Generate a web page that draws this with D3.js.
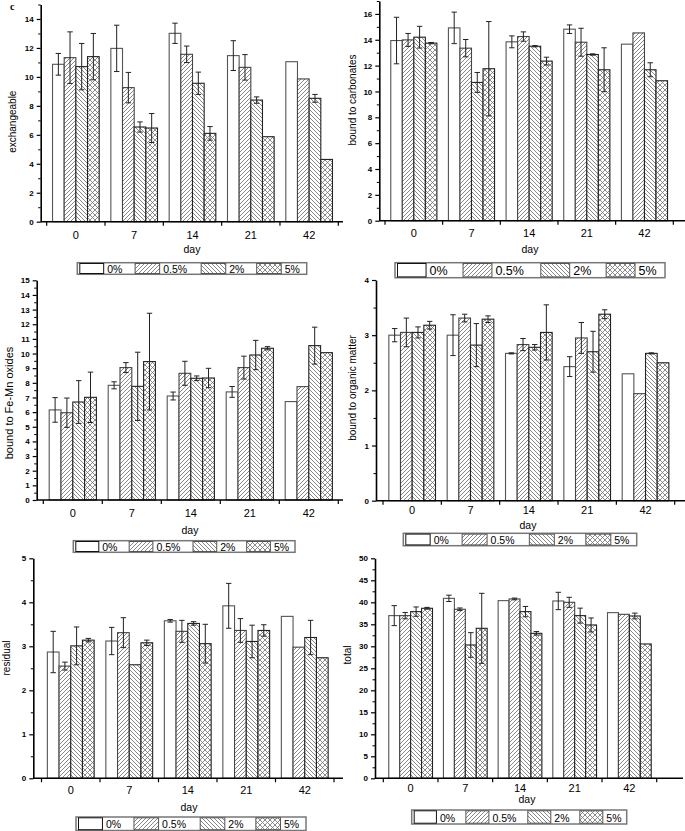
<!DOCTYPE html>
<html><head><meta charset="utf-8">
<script src="https://cdn.jsdelivr.net/npm/d3@7"></script>
<style>body{margin:0;background:#fff}svg{display:block}</style>
</head><body>
<svg id="c" width="685" height="831"></svg>
<script>
// ---------- data ----------
const days = ["0", "7", "14", "21", "42"];
const seriesNames = ["0%", "0.5%", "2%", "5%"];

// rows = days, columns = 0%, 0.5%, 2%, 5%
const exchangeableMean = [[10.87, 11.33, 10.71, 11.4], [11.97, 9.26, 6.54, 6.47], [13.01, 11.56, 9.56, 6.1], [11.47, 10.66, 8.4, 5.87], [11.05, 9.86, 8.52, 4.3]];
const exchangeableErr  = [[0.75, 1.78, 1.6, 1.6], [1.6, 1.05, 0.35, 1.0], [0.7, 0.57, 0.77, 0.47], [1.03, 0.88, 0.22, 0], [0, 0, 0.27, 0]];

const carbonatesMean = [[13.94, 13.99, 14.2, 13.74], [14.92, 13.35, 10.7, 11.76], [13.84, 14.25, 13.5, 12.35], [14.82, 13.81, 12.86, 11.68], [13.66, 14.53, 11.68, 10.83]];
const carbonatesErr  = [[1.8, 0.5, 0.84, 0.05], [1.22, 0.67, 0.77, 3.65], [0.46, 0.36, 0.05, 0.3], [0.33, 1.08, 0.05, 1.7], [0, 0, 0.54, 0]];

const feMnMean = [[6.15, 5.96, 6.69, 7.01], [7.83, 9.04, 7.76, 9.45], [7.1, 8.65, 8.31, 8.33], [7.38, 9.04, 9.9, 10.36], [6.72, 7.74, 10.54, 10.06]];
const feMnErr  = [[0.84, 1.0, 1.46, 1.72], [0.24, 0.34, 2.33, 3.3], [0.27, 0.82, 0.16, 0.66], [0.37, 0.78, 1.0, 0.11], [0, 0, 1.26, 0]];

const organicMean = [[3.0, 3.05, 3.05, 3.18], [3.0, 3.31, 2.82, 3.29], [2.67, 2.83, 2.78, 3.05], [2.43, 2.95, 2.7, 3.38], [2.3, 1.94, 2.67, 2.5]];
const organicErr  = [[0.12, 0.26, 0.1, 0.07], [0.37, 0.07, 0.39, 0.06], [0.01, 0.11, 0.05, 0.5], [0.18, 0.28, 0.37, 0.08], [0, 0, 0.01, 0]];

const residualMean = [[2.87, 2.55, 3.01, 3.14], [3.12, 3.31, 2.58, 3.08], [3.58, 3.34, 3.52, 3.06], [3.92, 3.36, 3.11, 3.36], [3.68, 2.98, 3.2, 2.74]];
const residualErr  = [[0.47, 0.09, 0.43, 0.04], [0.31, 0.34, 0, 0.06], [0.03, 0.25, 0.04, 0.44], [0.51, 0.27, 0.37, 0.13], [0, 0, 0.39, 0]];

const totalMean = [[36.97, 36.97, 37.88, 38.64], [40.9, 38.41, 30.3, 34.09], [40.38, 40.76, 37.88, 32.95], [40.3, 40.0, 36.97, 34.85], [37.65, 37.27, 36.89, 30.53]];
const totalErr  = [[2.27, 0.72, 1.06, 0.2], [0.72, 0.3, 2.8, 7.95], [0, 0.2, 1.17, 0.4], [1.97, 1.14, 1.7, 1.59], [0, 0, 0.65, 0]];

const yLabels = ["exchangeable", "bound to carbonates", "bound to Fe-Mn oxides", "bound to organic matter", "residual", "total"];

// ---------- layout ----------
const panels = [
  {title: yLabels[0], mean: exchangeableMean, err: exchangeableErr, yMax: 15, yStep: 2, yMinor: 1, ax: 40.7, y0: 221.7, yTop: 4.5, b0: 46.7, b1: 338.3, xEnd: 343, tickY: 235, dayX: 192, dayY: 248.5, lab: [12.7, 121.7, 10], legend: [77.3, 262.7, 229.4, 11.6, 10.5]},
  {title: yLabels[1], mean: carbonatesMean, err: carbonatesErr, yMax: 17, yStep: 2, yMinor: 1, ax: 379.3, y0: 220.7, yTop: 1, b0: 385, b1: 673.3, xEnd: 685, tickY: 233, dayX: 530, dayY: 248.5, lab: [352.7, 100, 10], legend: [395, 262.7, 270, 15, 12.5]},
  {title: yLabels[2], mean: feMnMean, err: feMnErr, yMax: 15, yStep: 1, yMinor: 0.5, ax: 36.7, y0: 500, yTop: 280.3, b0: 43.3, b1: 338.3, xEnd: 343, tickY: 513, dayX: 190, dayY: 529.5, lab: [8.5, 403, 11], legend: [73.3, 540.7, 221.7, 11.6, 10.5]},
  {title: yLabels[3], mean: organicMean, err: organicErr, yMax: 4, yStep: 1, yMinor: 0.5, ax: 376, y0: 500.7, yTop: 280, b0: 383, b1: 674.7, xEnd: 685, tickY: 510.5, dayX: 528, dayY: 525, lab: [352.7, 388, 10], legend: [403.3, 533.3, 233.4, 12.4, 10.5]},
  {title: yLabels[4], mean: residualMean, err: residualErr, yMax: 5, yStep: 1, yMinor: 0.5, ax: 33.3, y0: 778.3, yTop: 558.3, b0: 41.5, b1: 334, xEnd: 343, tickY: 790, dayX: 189, dayY: 806.7, lab: [6.5, 658, 10], legend: [76, 817, 230, 13.5, 10.5]},
  {title: yLabels[5], mean: totalMean, err: totalErr, yMax: 50, yStep: 5, yMinor: 2.5, ax: 375, y0: 778.3, yTop: 558.3, b0: 383.3, b1: 656.7, xEnd: 683, tickY: 788, dayX: 527, dayY: 798.5, lab: [347, 655, 10], legend: [411.7, 810, 215, 14, 10.5]}
];

const FONT = "'Liberation Sans', Arial, sans-serif";
const svg = d3.select("#c");
const defs = svg.append("defs");

function pattern(id, size, d, color, sw) {
  const p = defs.append("pattern").attr("id", id).attr("patternUnits", "userSpaceOnUse")
    .attr("width", size).attr("height", size);
  p.append("rect").attr("width", size).attr("height", size).attr("fill", "#fff");
  p.append("path").attr("d", d).attr("stroke", color).attr("stroke-width", sw).attr("fill", "none");
}
pattern("p05", 4, "M-1,1 L1,-1 M0,4 L4,0 M3,5 L5,3", "#6a6a6a", 0.8);
pattern("p2", 4, "M-1,3 L1,5 M0,0 L4,4 M3,-1 L5,1", "#6a6a6a", 0.8);
pattern("p5", 5, "M0,0 L5,5 M-1,4 L1,6 M4,-1 L6,1 M0,5 L5,0 M-1,1 L1,-1 M4,6 L6,4", "#707070", 0.8);

const fills = ["#fff", "url(#p05)", "url(#p2)", "url(#p5)"];
const strokes = ["#555", "#444", "#222", "#222"];
const fillScale = d3.scaleOrdinal().domain(seriesNames).range(fills);
const strokeScale = d3.scaleOrdinal().domain(seriesNames).range(strokes);

function drawPanel(p) {
  const g = svg.append("g");
  const y = d3.scaleLinear().domain([0, p.yMax]).range([p.y0, p.yTop]);
  const x = d3.scaleBand().domain(days).range([p.b0, p.b1]).padding(0);
  const off = x.bandwidth() * 0.1;
  const xs = d3.scaleBand().domain(seriesNames).range([0, x.bandwidth() * 0.8]).padding(0);

  const rows = days.flatMap((d, i) => seriesNames.map((s, j) => ({day: d, s, m: p.mean[i][j], e: p.err[i][j]})));

  g.append("g").selectAll("rect").data(rows).join("rect")
    .attr("x", r => x(r.day) + off + xs(r.s))
    .attr("y", r => y(r.m))
    .attr("width", xs.bandwidth())
    .attr("height", r => y(0) - y(r.m))
    .attr("fill", r => fillScale(r.s))
    .attr("stroke", r => strokeScale(r.s))
    .attr("stroke-width", 1.1);

  const eb = g.append("g").attr("stroke", "#222").attr("stroke-width", 1);
  rows.filter(r => r.e > 0).forEach(r => {
    const cx = x(r.day) + off + xs(r.s) + xs.bandwidth() / 2;
    const yt = y(r.m + r.e), yb = y(r.m - r.e);
    eb.append("line").attr("x1", cx).attr("x2", cx).attr("y1", yt).attr("y2", yb);
    eb.append("line").attr("x1", cx - 2.7).attr("x2", cx + 2.7).attr("y1", yt).attr("y2", yt);
    eb.append("line").attr("x1", cx - 2.7).attr("x2", cx + 2.7).attr("y1", yb).attr("y2", yb);
  });

  // y axis
  const major = d3.range(0, p.yMax + 1e-9, p.yStep);
  const minor = d3.range(0, p.yMax + 1e-9, p.yMinor).filter(v => Math.abs(v / p.yStep - Math.round(v / p.yStep)) > 1e-6);
  const ya = g.append("g").attr("transform", `translate(${p.ax},0)`)
    .call(d3.axisLeft(y).tickValues(major).tickSize(4).tickSizeOuter(0).tickPadding(3).tickFormat(d3.format("d")));
  ya.select(".domain").attr("stroke", "#000").attr("stroke-width", 1.6);
  ya.selectAll(".tick line").attr("stroke", "#000").attr("stroke-width", 1.2);
  ya.selectAll(".tick text").attr("font-family", FONT).attr("font-size", 8).attr("font-weight", "bold").attr("fill", "#000");
  const ym = g.append("g").attr("transform", `translate(${p.ax},0)`)
    .call(d3.axisLeft(y).tickValues(minor).tickSize(2.5).tickFormat(""));
  ym.select(".domain").remove();
  ym.selectAll(".tick line").attr("stroke", "#000").attr("stroke-width", 1);

  // x axis
  g.append("line").attr("x1", p.ax).attr("x2", p.xEnd).attr("y1", p.y0).attr("y2", p.y0)
    .attr("stroke", "#000").attr("stroke-width", 1.6);
  const bounds = d3.range(days.length + 1).map(k => p.b0 + k * x.step());
  g.append("g").selectAll("line").data(bounds).join("line")
    .attr("x1", d => d).attr("x2", d => d).attr("y1", p.y0).attr("y2", p.y0 + 4)
    .attr("stroke", "#000").attr("stroke-width", 1.2);
  const xa = g.append("g").attr("transform", `translate(0,${p.y0})`)
    .call(d3.axisBottom(x).tickSize(0).tickPadding(p.tickY - p.y0 - 4));
  xa.select(".domain").remove();
  xa.selectAll(".tick text").attr("font-family", FONT).attr("font-size", 11).attr("fill", "#000");

  g.append("text").attr("x", p.dayX).attr("y", p.dayY).attr("text-anchor", "middle")
    .attr("dominant-baseline", "central").attr("font-family", FONT).attr("font-size", 10.5).text("day");

  g.append("text").attr("transform", `translate(${p.lab[0]},${p.lab[1]}) rotate(-90)`)
    .attr("text-anchor", "middle").attr("dominant-baseline", "central")
    .attr("font-family", FONT).attr("font-size", p.lab[2]).text(p.title);

  drawLegend(p.legend);
}

function drawLegend(L) {
  const [lx, ly, lw, lh, fs] = L;
  const g = svg.append("g");
  g.append("rect").attr("x", lx).attr("y", ly).attr("width", lw).attr("height", lh)
    .attr("fill", "#fff").attr("stroke", "#777").attr("stroke-width", 1.5);
  const starts = [0, 0.252, 0.54, 0.782];
  seriesNames.forEach((s, i) => {
    const sx = lx + starts[i] * lw + (i === 0 ? 2.5 : 0);
    const sw = i === 0 ? 0.115 * lw - 2.5 : 0.107 * lw;
    g.append("rect").attr("x", sx).attr("y", ly + 0.8).attr("width", sw).attr("height", lh - 1.6)
      .attr("fill", fillScale(s)).attr("stroke", i === 0 ? "#111" : "#555").attr("stroke-width", 1);
    g.append("text").attr("x", sx + sw + 3.5).attr("y", ly + lh / 2 + 0.5)
      .attr("dominant-baseline", "central").attr("font-family", FONT).attr("font-size", fs).text(s);
  });
}

panels.forEach(drawPanel);

svg.append("text").attr("x", 10).attr("y", 6).attr("dominant-baseline", "central")
  .attr("font-family", "'Liberation Serif', 'Times New Roman', serif")
  .attr("font-weight", "bold").attr("font-size", 10).text("c");
</script>
</body></html>
